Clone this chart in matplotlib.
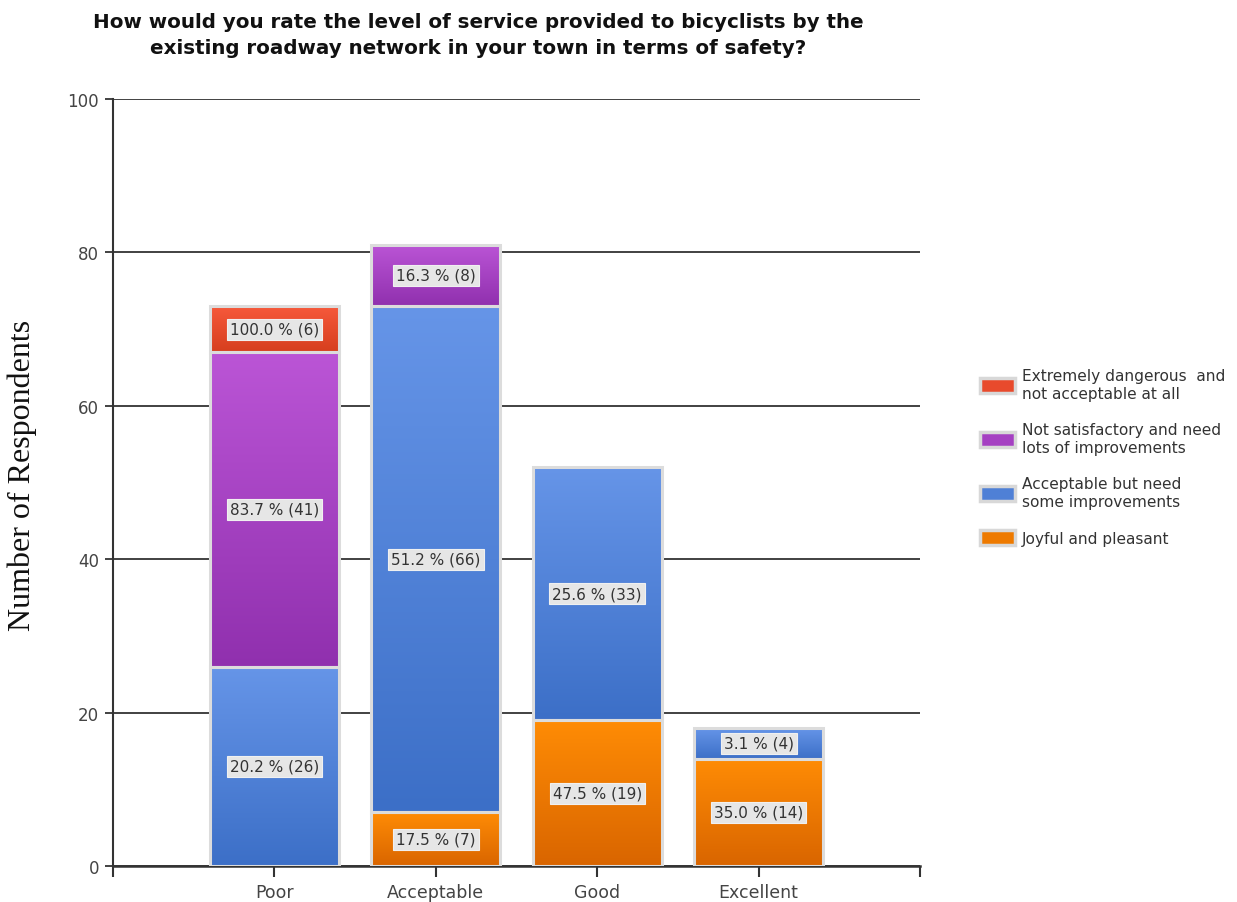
import matplotlib
matplotlib.use("Agg")
import matplotlib.pyplot as plt
import numpy as np
from matplotlib.patches import Rectangle, Patch
from matplotlib.colors import LinearSegmentedColormap

categories = ["Poor", "Acceptable", "Good", "Excellent"]
series_names = ["Joyful and pleasant",
                "Acceptable but need\nsome improvements",
                "Not satisfactory and need\nlots of improvements",
                "Extremely dangerous  and\nnot acceptable at all"]
joyful = [0, 7, 19, 14]
acceptable_need = [26, 66, 33, 4]
not_satisfactory = [41, 8, 0, 0]
extremely = [6, 0, 0, 0]
label_joyful = ["", "17.5 % (7)", "47.5 % (19)", "35.0 % (14)"]
label_acceptable = ["20.2 % (26)", "51.2 % (66)", "25.6 % (33)", "3.1 % (4)"]
label_not = ["83.7 % (41)", "16.3 % (8)", "", ""]
label_ext = ["100.0 % (6)", "", "", ""]
yticks = [0, 20, 40, 60, 80, 100]

series = [joyful, acceptable_need, not_satisfactory, extremely]
labels = [label_joyful, label_acceptable, label_not, label_ext]
# (top colour, bottom colour)
grads = [("#ff8c05", "#d96500"), ("#6695e8", "#3c6fc7"),
         ("#bb55d6", "#9030ae"), ("#f75a3c", "#d63e1e")]
legend_cols = ["#ee7a00", "#4f80d6", "#a540c2", "#e84a2c"]

fig = plt.figure(figsize=(12.37, 9.03), dpi=100)
ax = fig.add_axes([113/1237, 1-867/903, (920-113)/1237, (867-100)/903])
ax.set_xlim(0, 5)
ax.set_ylim(0, 100)

width = 0.8
x = np.arange(1, len(categories)+1)
bottoms = np.zeros(len(categories))
for vals, labs, (ctop, cbot) in zip(series, labels, grads):
    cmap = LinearSegmentedColormap.from_list("g", [cbot, ctop])
    grad = np.linspace(0, 1, 256).reshape(-1, 1)
    for i, v in enumerate(vals):
        if v <= 0:
            continue
        b = bottoms[i]
        ax.imshow(grad, cmap=cmap, origin="lower", aspect="auto",
                  extent=(x[i]-width/2, x[i]+width/2, b, b+v), zorder=2,
                  interpolation="bilinear")
        ax.add_patch(Rectangle((x[i]-width/2, b), width, v, fill=False,
                               edgecolor="#dcdcdc", linewidth=2.2, zorder=3))
        if labs[i]:
            ax.text(x[i], b+v/2, labs[i], ha="center", va="center",
                    fontsize=11, color="#333333", zorder=5,
                    bbox=dict(boxstyle="square,pad=0.2", facecolor="#e6e6e6",
                              edgecolor="#f0f0f0", linewidth=0.8))
    bottoms += np.array(vals)

ax.set_xlim(0, 5)
ax.set_ylim(0, 100)
ax.set_yticks(yticks)
ax.set_yticklabels([str(t) for t in yticks], fontsize=12, color="#444444")
ax.yaxis.grid(True, color="#333333", linewidth=1.3, zorder=1)
ax.set_axisbelow(True)
ax.set_xticks([0, 1, 2, 3, 4, 5])
ax.set_xticklabels([""] + categories + [""], fontsize=12.5, color="#444444")
ax.tick_params(axis="x", length=8, width=1.5, color="#333333", direction="out", pad=4)
ax.tick_params(axis="y", length=6, width=1.3, color="#333333", direction="out", pad=4)
for s in ["top", "right"]:
    ax.spines[s].set_visible(False)
ax.spines["left"].set_color("#333333")
ax.spines["left"].set_linewidth(1.5)
ax.spines["bottom"].set_color("#333333")
ax.spines["bottom"].set_linewidth(1.8)

fig.text(22/1237, 1-475/903, "Number of Respondents", rotation=90,
         ha="center", va="center", fontsize=23, family="Liberation Serif", color="#111111")

fig.text(478/1237, 1-22/903,
         "How would you rate the level of service provided to bicyclists by the",
         ha="center", va="center", fontsize=14.3, fontweight="bold", color="#111111")
fig.text(478/1237, 1-48/903,
         "existing roadway network in your town in terms of safety?",
         ha="center", va="center", fontsize=14.3, fontweight="bold", color="#111111")

handles = [Patch(facecolor=c, edgecolor="#d8d8d8", linewidth=2.5) for c in legend_cols[::-1]]
leg = fig.legend(handles, series_names[::-1], loc="center left",
                 bbox_to_anchor=(966/1237, 1-458/903), frameon=False,
                 fontsize=11.1, labelspacing=1.4, handlelength=2.3, handleheight=1.1,
                 handletextpad=0.45)
for t in leg.get_texts():
    t.set_color("#333333")

fig.savefig("out.png", dpi=100)
